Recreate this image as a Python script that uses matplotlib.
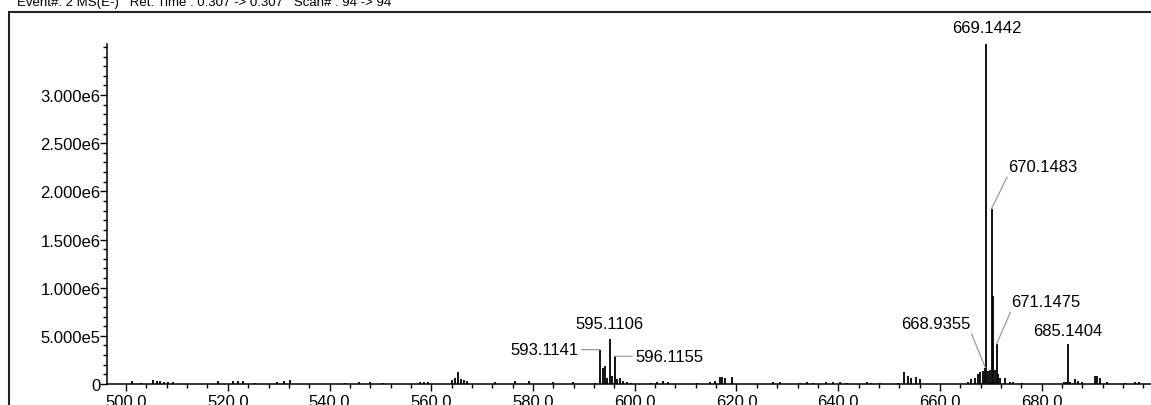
import numpy as np
import matplotlib
matplotlib.use("Agg")
import matplotlib.pyplot as plt
from matplotlib.ticker import MultipleLocator, FixedLocator, FuncFormatter
from matplotlib.patches import Rectangle

plt.rcParams['font.family'] = ['Liberation Sans', 'DejaVu Sans']

# spectrum: m/z and intensity
mz = [501.1, 503.0, 505.3, 506.0, 506.6, 507.4, 508.3, 509.3, 518.1, 521.1,
      522.0, 523.0, 525.3, 529.6, 531.1, 532.2, 543.0, 545.8, 547.9, 550.5,
      557.8, 558.6, 559.3, 564.0, 564.7, 565.3, 565.9, 566.5, 567.0, 572.5,
      576.4, 579.2, 584.0, 587.9, 592.2, 593.1141, 593.7, 594.2, 594.6, 595.1106,
      595.6, 596.1155, 596.6, 597.1, 597.6, 598.5, 599.2, 603.2, 604.4, 605.5,
      606.5, 612.2, 614.8, 615.8, 616.7, 617.2, 617.7, 619.1, 627.2, 628.6,
      632.5, 633.8, 635.0, 637.7, 639.0, 640.3, 641.7, 645.6, 646.5, 648.2,
      651.8, 653.0, 653.8, 654.4, 655.3, 656.1, 665.5, 666.2, 666.8, 667.4,
      667.9, 668.4, 668.9355, 669.1442, 669.5, 669.8, 670.1483, 670.45, 670.8, 671.1475,
      671.5, 671.9, 672.8, 673.8, 674.4, 676.1, 684.3, 684.7, 685.1404, 685.6,
      686.5, 687.2, 687.9, 690.5, 690.9, 691.4, 692.8, 696.3, 698.3, 699.1]
intensity = [2.8e4, 1.5e4, 4.0e4, 3.0e4, 3.0e4, 2.5e4, 2.0e4, 2.5e4, 3.0e4, 3.0e4,
             3.5e4, 3.0e4, 1.5e4, 2.0e4, 3.0e4, 4.0e4, 1.5e4, 2.0e4, 2.0e4, 1.5e4,
             2.0e4, 2.5e4, 2.0e4, 4.0e4, 6.0e4, 1.2e5, 5.0e4, 4.5e4, 3.0e4, 2.0e4,
             3.0e4, 3.5e4, 2.0e4, 2.5e4, 1.0e4, 3.57e5, 1.65e5, 1.9e5, 6.0e4, 4.68e5,
             8.0e4, 2.88e5, 5.0e4, 6.0e4, 3.0e4, 2.0e4, 1.5e4, 1.5e4, 2.5e4, 3.0e4,
             2.0e4, 1.5e4, 2.0e4, 3.0e4, 7.0e4, 7.0e4, 6.5e4, 7.0e4, 2.0e4, 2.0e4,
             1.5e4, 2.0e4, 1.5e4, 2.0e4, 2.5e4, 2.0e4, 1.5e4, 2.0e4, 1.5e4, 1.5e4,
             1.5e4, 1.2e5, 8.0e4, 6.0e4, 7.0e4, 5.0e4, 2.5e4, 5.0e4, 6.0e4, 1.0e5,
             1.2e5, 1.4e5, 1.7e5, 3.53e6, 1.4e5, 1.5e5, 1.82e6, 9.15e5, 1.5e5, 4.16e5,
             1.0e5, 6.0e4, 6.0e4, 2.5e4, 2.0e4, 1.5e4, 2.0e4, 2.0e4, 4.16e5, 2.0e4,
             5.0e4, 3.0e4, 2.5e4, 8.0e4, 8.5e4, 6.0e4, 2.0e4, 1.5e4, 2.0e4, 2.0e4]

# labelled peaks
label_mz = [669.1442, 670.1483, 671.1475, 668.9355, 685.1404, 595.1106, 593.1141, 596.1155]
label_text = ["669.1442", "670.1483", "671.1475", "668.9355", "685.1404",
              "595.1106", "593.1141", "596.1155"]

# labelled axis ticks
x_major = [500, 520, 540, 560, 580, 600, 620, 640, 660, 680]
y_major = [0, 5e5, 1e6, 1.5e6, 2e6, 2.5e6, 3e6]

header = "Event#: 2 MS(E-)   Ret. Time : 0.307 -> 0.307   Scan# : 94 -> 94"

fig = plt.figure(figsize=(11.51, 4.06), dpi=100)

# outer frame (runs off right and bottom edges)
fig.patches.append(Rectangle((9 / 1151, -0.2), 1.2, 1.2 - 13 / 406,
                             transform=fig.transFigure, fill=False,
                             edgecolor='#222222', linewidth=1.5))
fig.text(17 / 1151, 1 - 6 / 406, header, fontsize=9.5, va='baseline', ha='left')

ax = fig.add_axes([107.3 / 1151, 21 / 406, 1 - 107.3 / 1151, 340 / 406])
ax.vlines(mz, 0, intensity, color='black', linewidth=1.3)
ax.set_xlim(496.3, 701.5)
ax.set_ylim(0, max(intensity))

for s in ['top', 'right']:
    ax.spines[s].set_visible(False)
for s in ['left', 'bottom']:
    ax.spines[s].set_linewidth(1.1)

ax.xaxis.set_major_locator(FixedLocator(x_major))
ax.xaxis.set_minor_locator(MultipleLocator(4))
ax.yaxis.set_major_locator(FixedLocator(y_major))
ax.yaxis.set_minor_locator(MultipleLocator(1e5))
ax.xaxis.set_major_formatter(FuncFormatter(lambda v, p: f"{v:.1f}"))


def yfmt(v, p):
    if v <= 0:
        return "0"
    e = int(np.floor(np.log10(v)))
    return f"{v / 10 ** e:.3f}e{e}"


ax.yaxis.set_major_formatter(FuncFormatter(yfmt))
ax.tick_params(axis='both', which='major', length=5, width=1, labelsize=12)
ax.tick_params(axis='both', which='minor', length=3, width=1)
ax.tick_params(axis='x', which='major', pad=2)
ax.tick_params(axis='y', which='major', pad=0)

# label placement: (dx, dy) in pixels, alignment, leader relpos or None
label_layout = {
    "669.1442": ((0, 17), 'center', None),
    "670.1483": ((17, 42), 'left', (0, 0)),
    "671.1475": ((15, 42), 'left', (0, 0)),
    "668.9355": ((-15, 44), 'right', (1, 0)),
    "685.1404": ((0, 13), 'center', None),
    "595.1106": ((0, 15), 'center', None),
    "593.1141": ((-21, 0), 'right', (1, 0.5)),
    "596.1155": ((20, 0), 'left', (0, 0.5)),
}
peak_lookup = dict(zip(mz, intensity))
for m, t in zip(label_mz, label_text):
    off, ha, rel = label_layout[t]
    kw = {}
    if rel is not None:
        kw['arrowprops'] = dict(arrowstyle='-', color='#9a9a9a', lw=0.9,
                                shrinkA=0, shrinkB=0, relpos=rel)
    ax.annotate(t, xy=(m, peak_lookup[m]), xytext=off, textcoords='offset pixels',
                ha=ha, va='center', fontsize=12, annotation_clip=False, **kw)

fig.savefig("out.png", dpi=100)
